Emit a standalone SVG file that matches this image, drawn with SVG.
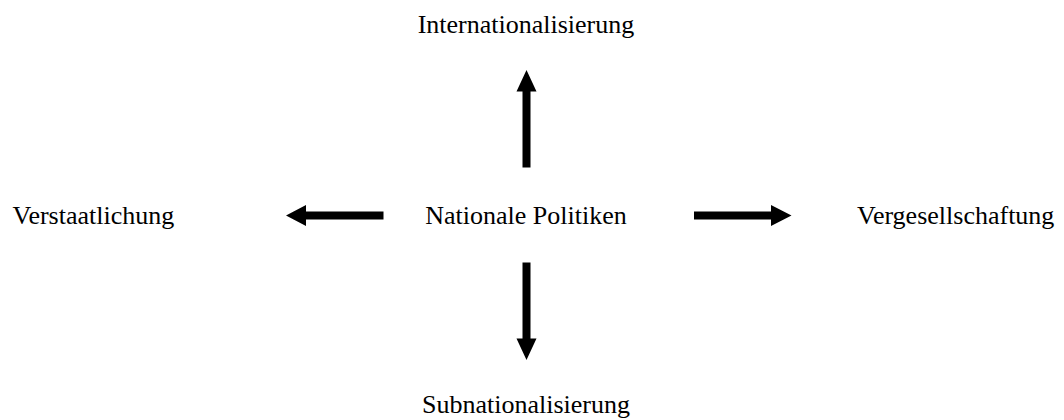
<svg xmlns="http://www.w3.org/2000/svg" width="1064" height="420" viewBox="0 0 1064 420">
<style>
text { font-family: "Liberation Serif", "Times New Roman", serif; font-size: 26px; fill: #000; }
.arrow { fill: #000; stroke: none; }
</style>
<rect width="1064" height="420" fill="#fff"/>
<g id="node-center"><text x="526" y="223.5" text-anchor="middle">Nationale Politiken</text></g>
<g id="node-top"><text x="526" y="33" text-anchor="middle">Internationalisierung</text></g>
<g id="node-bottom"><text x="526" y="413" text-anchor="middle">Subnationalisierung</text></g>
<g id="node-left"><text x="12.5" y="223.5">Verstaatlichung</text></g>
<g id="node-right"><text x="857" y="223.5">Vergesellschaftung</text></g>
<g id="connectors">
<polygon class="arrow" points="526.5,70 536.5,91.5 530.5,91.5 530.5,167.5 522.5,167.5 522.5,91.5 516.5,91.5"/>
<polygon class="arrow" points="526.5,360 536.5,338.5 530.5,338.5 530.5,262.5 522.5,262.5 522.5,338.5 516.5,338.5"/>
<polygon class="arrow" points="286,215.5 306,205 306,211.5 383.5,211.5 383.5,219.5 306,219.5 306,226"/>
<polygon class="arrow" points="791.5,215.5 771,205 771,211.5 694,211.5 694,219.5 771,219.5 771,226"/>
</g>
</svg>
